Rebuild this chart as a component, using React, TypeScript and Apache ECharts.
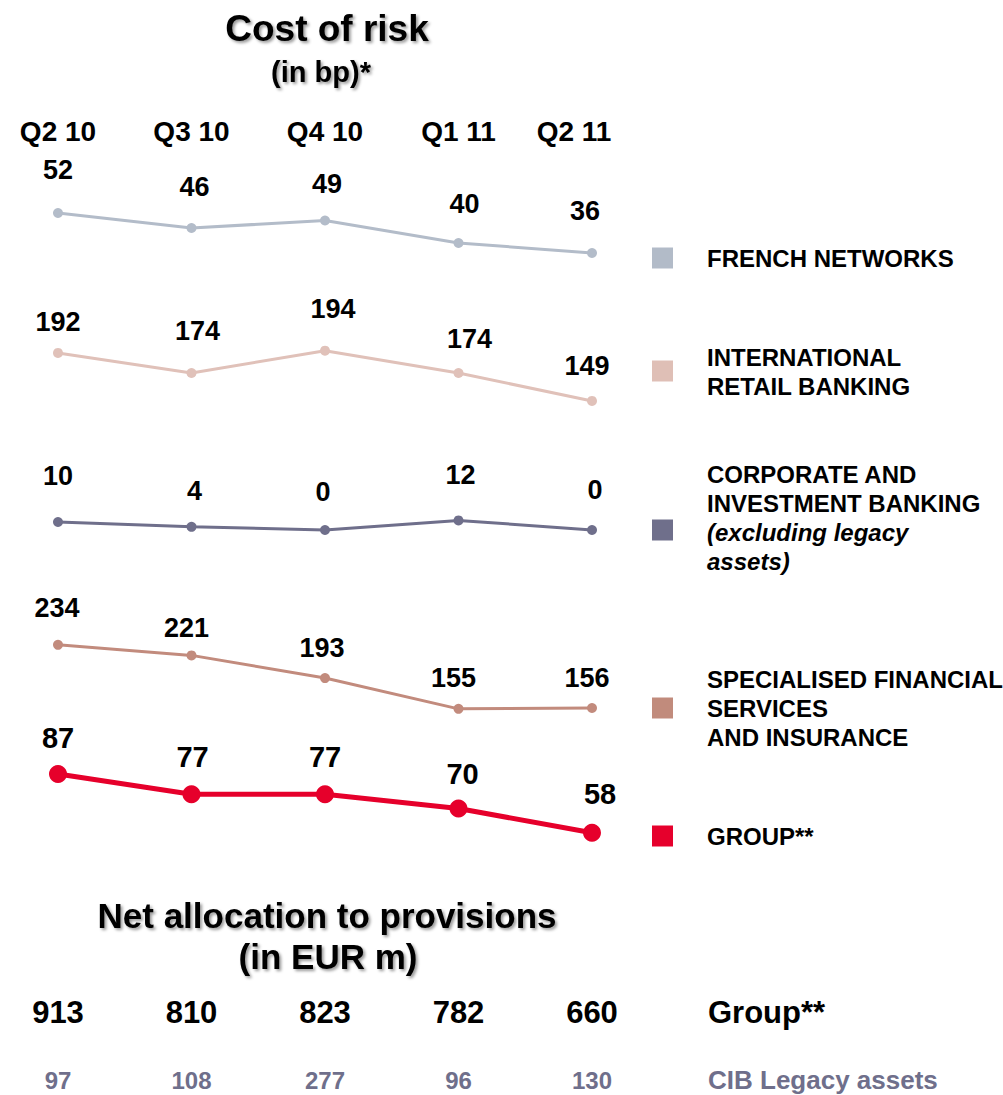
import React, { useEffect, useRef } from "react";
import * as echarts from "echarts";

const quarters = ["Q2 10", "Q3 10", "Q4 10", "Q1 11", "Q2 11"];
const frenchNetworks = [52, 46, 49, 40, 36];
const intlRetailBanking = [192, 174, 194, 174, 149];
const corporateInvestment = [10, 4, 0, 12, 0];
const specialisedFinancial = [234, 221, 193, 155, 156];
const groupCostOfRisk = [87, 77, 77, 70, 58];
const groupProvisions = [913, 810, 823, 782, 660];
const cibLegacyAssets = [97, 108, 277, 96, 130];
const provisionRows = ["Group**", "CIB Legacy assets"];

const FONT = "'Liberation Sans', Arial, Helvetica, sans-serif";

// layout / style per panel (label offsets are [dx, dy] nudges in px)
const panels = [
  { name: "FRENCH NETWORKS", data: frenchNetworks, color: "#b3bcc9", min: 30, max: 60, top: 193, height: 75, lw: 3, sym: 10, fs: 27, dist: 18,
    offs: [[0, -7], [3, -5], [2, 0], [6, -3], [-7, -6]] },
  { name: "INTERNATIONAL RETAIL BANKING", data: intlRetailBanking, color: "#e0c1b9", min: 140, max: 200, top: 344, height: 67, lw: 3, sym: 10, fs: 27, dist: 16,
    offs: [[0, 4], [6, -8], [8, -7], [11, 0], [-5, 0]] },
  { name: "CORPORATE AND INVESTMENT BANKING", data: corporateInvestment, color: "#6f6f8b", min: -10, max: 20, top: 514, height: 24, lw: 3, sym: 10, fs: 27, dist: 18,
    offs: [[0, -10], [3, 1], [-2, -2], [2, -9], [3, -4]] },
  { name: "SPECIALISED FINANCIAL SERVICES AND INSURANCE", data: specialisedFinancial, color: "#c28b7d", min: 140, max: 240, top: 640, height: 81, lw: 3, sym: 10, fs: 27, dist: 14,
    offs: [[-1, -4], [-5, 5], [-3, 2], [-5, 2], [-5, 2]] },
  { name: "GROUP**", data: groupCostOfRisk, color: "#e6002b", min: 50, max: 90, top: 768, height: 81, lw: 5, sym: 18, fs: 29, dist: 10,
    offs: [[0, -3], [1, -4], [0, -4], [4, -1], [8, -5]] },
];

const legendItems = [
  { color: "#b2bbc8", cy: 258, text: "{b|FRENCH NETWORKS}", ty: 258 },
  { color: "#dfbfb6", cy: 371, text: "{b|INTERNATIONAL}\n{b|RETAIL BANKING}", ty: 372 },
  { color: "#6f6f8b", cy: 530, text: "{b|CORPORATE AND}\n{b|INVESTMENT BANKING}\n{i|(excluding legacy}\n{i|assets)}", ty: 518 },
  { color: "#c18b7c", cy: 708, text: "{b|SPECIALISED FINANCIAL}\n{b|SERVICES}\n{b|AND INSURANCE}", ty: 708 },
  { color: "#e6002c", cy: 836, text: "{b|GROUP**}", ty: 836 },
];

export default function App() {
  const ref = useRef<HTMLDivElement>(null);

  useEffect(() => {
    if (!ref.current) return;
    const chart = echarts.init(ref.current, undefined, { renderer: "svg" });

    const grids: any[] = [];
    const xAxes: any[] = [];
    const yAxes: any[] = [];
    const series: any[] = [];

    panels.forEach((p, i) => {
      grids.push({ left: 58, right: 411, top: p.top, height: p.height });
      xAxes.push({
        type: "category",
        gridIndex: i,
        data: quarters,
        boundaryGap: false,
        position: "top",
        axisLine: { show: false },
        axisTick: { show: false },
        splitLine: { show: false },
        axisLabel: i === 0
          ? {
              show: true,
              margin: 48,
              interval: 0,
              fontFamily: FONT,
              formatter: (v: string, idx: number) => (idx === quarters.length - 1 ? `{l|${v}}` : `{n|${v}}`),
              rich: {
                n: { fontSize: 28, fontWeight: "bold", color: "#000", fontFamily: FONT },
                l: { fontSize: 28, fontWeight: "bold", color: "#000", fontFamily: FONT, padding: [0, 36, 0, 0] },
              },
            }
          : { show: false },
      });
      yAxes.push({
        type: "value",
        gridIndex: i,
        min: p.min,
        max: p.max,
        show: false,
        splitLine: { show: false },
      });
      series.push({
        type: "line",
        name: p.name,
        xAxisIndex: i,
        yAxisIndex: i,
        data: p.data.map((v, k) => ({ value: v, label: { offset: p.offs[k] } })),
        color: p.color,
        lineStyle: { width: p.lw, color: p.color },
        itemStyle: { color: p.color },
        symbol: "circle",
        symbolSize: p.sym,
        showSymbol: true,
        label: {
          show: true,
          position: "top",
          distance: p.dist,
          fontSize: p.fs,
          fontWeight: "bold",
          color: "#000",
          fontFamily: FONT,
        },
      });
    });

    const bi = panels.length;
    grids.push({ left: 58, right: 411, top: 1012, height: 68 });
    xAxes.push({
      type: "category",
      gridIndex: bi,
      data: quarters,
      boundaryGap: false,
      show: false,
    });
    yAxes.push({
      type: "category",
      gridIndex: bi,
      data: provisionRows,
      inverse: true,
      boundaryGap: false,
      position: "right",
      axisLine: { show: false },
      axisTick: { show: false },
      splitLine: { show: false },
      axisLabel: {
        margin: 116,
        fontFamily: FONT,
        formatter: (v: string) => (v === provisionRows[0] ? `{g|${v}}` : `{c|${v}}`),
        rich: {
          g: { fontSize: 31, fontWeight: "bold", color: "#000", fontFamily: FONT },
          c: { fontSize: 26, fontWeight: "bold", color: "#6f6f8b", fontFamily: FONT },
        },
      },
    });
    const rowSeries = [
      { values: groupProvisions, row: provisionRows[0], fs: 31, color: "#000" },
      { values: cibLegacyAssets, row: provisionRows[1], fs: 24, color: "#6f6f8b" },
    ];
    rowSeries.forEach((r) => {
      series.push({
        type: "scatter",
        name: r.row,
        xAxisIndex: bi,
        yAxisIndex: bi,
        symbolSize: 1,
        itemStyle: { color: "transparent", opacity: 1 },
        emphasis: { disabled: true },
        data: r.values.map((v, i) => [quarters[i], r.row, v]),
        label: {
          show: true,
          position: "inside",
          formatter: (p: any) => String(p.value[2]),
          fontSize: r.fs,
          fontWeight: "bold",
          color: r.color,
          opacity: 1,
          fontFamily: FONT,
        },
      });
    });

    const titleShadow = {
      textShadowColor: "rgba(0,0,0,0.4)",
      textShadowBlur: 3,
      textShadowOffsetX: 2,
      textShadowOffsetY: 2,
    };

    const graphic: any[] = [
      { type: "text", x: 327, y: 28, style: { text: "Cost of risk", fontSize: 37, fontWeight: "bold", fontFamily: FONT, fill: "#000", align: "center", verticalAlign: "middle", ...titleShadow } },
      { type: "text", x: 321, y: 72, style: { text: "(in bp)*", fontSize: 29, fontWeight: "bold", fontFamily: FONT, fill: "#000", align: "center", verticalAlign: "middle", ...titleShadow } },
      { type: "text", x: 327, y: 915, style: { text: "Net allocation to provisions", fontSize: 35, fontWeight: "bold", fontFamily: FONT, fill: "#000", align: "center", verticalAlign: "middle", ...titleShadow } },
      { type: "text", x: 328, y: 956, style: { text: "(in EUR m)", fontSize: 35, fontWeight: "bold", fontFamily: FONT, fill: "#000", align: "center", verticalAlign: "middle", ...titleShadow } },
    ];
    legendItems.forEach((l) => {
      graphic.push({ type: "rect", shape: { x: 652, y: l.cy - 10.5, width: 21, height: 21 }, style: { fill: l.color } });
      graphic.push({
        type: "text",
        x: 707,
        y: l.ty,
        style: {
          text: l.text,
          align: "left",
          verticalAlign: "middle",
          fontFamily: FONT,
          rich: {
            b: { fontSize: 24, fontWeight: "bold", fill: "#000", lineHeight: 29, fontFamily: FONT },
            i: { fontSize: 24, fontWeight: "bold", fontStyle: "italic", fill: "#000", lineHeight: 29, fontFamily: FONT },
          },
        },
      });
    });

    chart.setOption({
      animation: false,
      backgroundColor: "#fff",
      textStyle: { fontFamily: FONT },
      grid: grids,
      xAxis: xAxes,
      yAxis: yAxes,
      series,
      graphic,
    });

    return () => chart.dispose();
  }, []);

  return (
    <div
      ref={ref}
      style={{ position: "absolute", left: 0, top: 0, width: 1003, height: 1095, background: "#fff" }}
    />
  );
}
